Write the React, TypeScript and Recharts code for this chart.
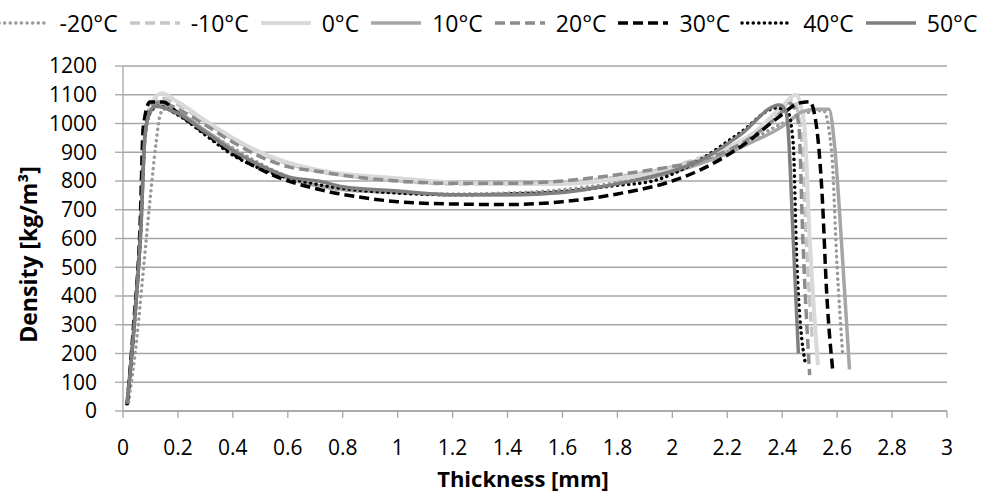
import { LineChart, Line, XAxis, YAxis, CartesianGrid } from 'recharts'

// thickness [mm] / density [kg/m3]
const xM20 = [0.02, 0.05, 0.075, 0.1, 0.12, 0.135, 0.15, 0.2, 0.3, 0.4, 0.5, 0.6, 0.7, 0.8, 1.0, 1.2, 1.4, 1.6, 1.8, 2.0, 2.1, 2.2, 2.3, 2.4, 2.5, 2.55, 2.58, 2.6, 2.62]
const yM20 = [30, 250, 500, 750, 930, 1030, 1050, 1030, 975, 915, 860, 815, 785, 770, 760, 755, 758, 770, 795, 835, 870, 905, 950, 1000, 1040, 1045, 900, 500, 200]

const xM10 = [0.015, 0.04, 0.065, 0.08, 0.1, 0.13, 0.2, 0.3, 0.4, 0.5, 0.6, 0.7, 0.8, 1.0, 1.2, 1.4, 1.6, 1.8, 2.0, 2.1, 2.2, 2.3, 2.4, 2.44, 2.47, 2.49, 2.51]
const yM10 = [25, 290, 640, 960, 1060, 1090, 1065, 1005, 945, 895, 860, 835, 820, 800, 790, 790, 795, 815, 850, 880, 915, 965, 1050, 1085, 950, 550, 240]

const x0 = [0.015, 0.04, 0.065, 0.08, 0.1, 0.14, 0.2, 0.3, 0.4, 0.5, 0.6, 0.7, 0.8, 1.0, 1.2, 1.4, 1.6, 1.8, 2.0, 2.1, 2.2, 2.3, 2.4, 2.45, 2.48, 2.5, 2.53]
const y0 = [25, 290, 640, 960, 1060, 1105, 1075, 1010, 950, 900, 865, 840, 825, 810, 795, 790, 790, 808, 845, 875, 915, 970, 1060, 1100, 1000, 600, 160]

const x10 = [0.015, 0.04, 0.065, 0.08, 0.1, 0.13, 0.2, 0.3, 0.4, 0.5, 0.6, 0.7, 0.8, 1.0, 1.2, 1.4, 1.6, 1.8, 2.0, 2.1, 2.2, 2.3, 2.4, 2.43, 2.47, 2.52, 2.57, 2.59, 2.62, 2.645]
const y10 = [25, 290, 640, 960, 1040, 1065, 1040, 975, 910, 850, 810, 785, 770, 760, 752, 752, 762, 790, 830, 860, 895, 940, 990, 1012, 1040, 1050, 1050, 930, 525, 145]

const x20 = [0.015, 0.04, 0.065, 0.08, 0.1, 0.13, 0.2, 0.3, 0.4, 0.5, 0.6, 0.7, 0.8, 1.0, 1.2, 1.4, 1.6, 1.8, 1.92, 2.08, 2.2, 2.3, 2.4, 2.43, 2.46, 2.475, 2.5]
const y20 = [25, 290, 640, 960, 1060, 1075, 1050, 995, 935, 885, 850, 835, 820, 800, 792, 792, 800, 822, 838, 867, 905, 960, 1040, 1070, 1000, 600, 125]

const x30 = [0.015, 0.038, 0.062, 0.074, 0.098, 0.146, 0.2, 0.3, 0.4, 0.53, 0.72, 0.86, 1.0, 1.2, 1.4, 1.6, 1.8, 2.0, 2.1, 2.25, 2.39, 2.46, 2.5, 2.525, 2.545, 2.562, 2.585]
const y30 = [21, 293, 641, 988, 1075, 1075, 1035, 965, 895, 827, 769, 744, 728, 720, 718, 728, 755, 800, 838, 920, 1024, 1071, 1076, 989, 758, 410, 132]

const x40 = [0.015, 0.04, 0.065, 0.08, 0.1, 0.13, 0.2, 0.3, 0.4, 0.53, 0.72, 1.0, 1.2, 1.4, 1.6, 1.8, 1.92, 2.08, 2.246, 2.38, 2.42, 2.44, 2.453, 2.483]
const y40 = [25, 290, 640, 960, 1040, 1060, 1030, 960, 890, 832, 786, 758, 752, 755, 763, 785, 798, 862, 967, 1054, 1040, 932, 525, 172]

const x50 = [0.015, 0.04, 0.065, 0.08, 0.1, 0.12, 0.2, 0.3, 0.4, 0.5, 0.6, 0.72, 0.8, 1.0, 1.2, 1.4, 1.6, 1.8, 2.0, 2.1, 2.246, 2.39, 2.41, 2.42, 2.44, 2.459]
const y50 = [25, 290, 640, 960, 1045, 1060, 1035, 970, 905, 855, 815, 798, 780, 765, 752, 752, 760, 790, 835, 870, 960, 1064, 1050, 1000, 600, 200]

const thicknessTicks = [0, 0.2, 0.4, 0.6, 0.8, 1, 1.2, 1.4, 1.6, 1.8, 2, 2.2, 2.4, 2.6, 2.8, 3]
const densityTicks = [0, 100, 200, 300, 400, 500, 600, 700, 800, 900, 1000, 1100, 1200]

const zip = (xs: number[], ys: number[]) => xs.map((x, i) => ({ x, y: ys[i] }))

const DOT = '0.1 5.5'
const DASH = '10 5'

const series = [
  { name: '-20°C', data: zip(xM20, yM20), color: '#9a9a9a', width: 3.5, dash: DOT },
  { name: '-10°C', data: zip(xM10, yM10), color: '#c6c6c6', width: 3.5, dash: DASH },
  { name: '0°C', data: zip(x0, y0), color: '#d9d9d9', width: 4, dash: undefined },
  { name: '10°C', data: zip(x10, y10), color: '#a6a6a6', width: 3.5, dash: undefined },
  { name: '20°C', data: zip(x20, y20), color: '#8c8c8c', width: 3.5, dash: DASH },
  { name: '30°C', data: zip(x30, y30), color: '#000000', width: 3.5, dash: DASH },
  { name: '40°C', data: zip(x40, y40), color: '#000000', width: 3.5, dash: DOT },
  { name: '50°C', data: zip(x50, y50), color: '#7f7f7f', width: 3.5, dash: undefined },
]

const FONT = '"Open Sans", sans-serif'

function TopLegend() {
  return (
    <div style={{
      position: 'absolute', left: 0, top: 6, width: 982, height: 34,
      display: 'flex', alignItems: 'center', justifyContent: 'center',
      fontFamily: FONT, fontSize: 23, color: '#000',
    }}>
      {series.map(s => (
        <div key={s.name} style={{ display: 'flex', alignItems: 'center', marginRight: 9 }}>
          <svg width={56} height={10} style={{ marginRight: 8 }}>
            <line x1={3} y1={5} x2={53} y2={5} stroke={s.color} strokeWidth={s.width}
              strokeDasharray={s.dash} strokeLinecap={s.dash === DOT ? 'round' : 'butt'} />
          </svg>
          <span>{s.name}</span>
        </div>
      ))}
    </div>
  )
}

const YTitle = ({ viewBox }: any) => {
  const cx = viewBox.x + 28
  const cy = viewBox.y + viewBox.height / 2 + 16
  return (
    <text x={cx} y={cy} transform={`rotate(-90 ${cx} ${cy})`} textAnchor="middle" dominantBaseline="central"
      fontFamily={FONT} fontSize={23} fontWeight={700} fill="#000">
      Density [kg/m³]
    </text>
  )
}

export default function App() {
  return (
    <div style={{ position: 'absolute', left: 0, top: 0, width: 982, height: 496, background: '#fff' }}>
      <TopLegend />
      <LineChart width={982} height={496} margin={{ top: 66, right: 35, left: 0, bottom: 0 }}
        style={{ fontFamily: FONT }}>
        <CartesianGrid vertical={false} stroke="#a6a6a6" strokeWidth={1.3} />
        <XAxis
          type="number"
          dataKey="x"
          domain={[0, 3]}
          ticks={thicknessTicks}
          interval={0}
          height={85}
          tickSize={7}
          tickMargin={22}
          stroke="#a6a6a6"
          strokeWidth={1.3}
          tick={{ fontSize: 21, fill: '#000', fontFamily: FONT }}
          label={{ value: 'Thickness [mm]', position: 'insideBottom', offset: 9, dx: -12, fontSize: 22, fontWeight: 700, fill: '#000', fontFamily: FONT }}
          allowDataOverflow
        />
        <YAxis
          type="number"
          domain={[0, 1200]}
          ticks={densityTicks}
          interval={0}
          width={123}
          tickSize={8}
          tickMargin={18}
          stroke="#a6a6a6"
          strokeWidth={1.3}
          tick={{ fontSize: 21, fill: '#000', fontFamily: FONT }}
          label={<YTitle />}
        />
        {series.map(s => (
          <Line
            key={s.name}
            data={s.data}
            dataKey="y"
            name={s.name}
            type="monotone"
            stroke={s.color}
            strokeWidth={s.width}
            strokeDasharray={s.dash}
            strokeLinecap={s.dash === DOT ? 'round' : 'butt'}
            strokeLinejoin="round"
            dot={false}
            activeDot={false}
            isAnimationActive={false}
          />
        ))}
      </LineChart>
    </div>
  )
}
